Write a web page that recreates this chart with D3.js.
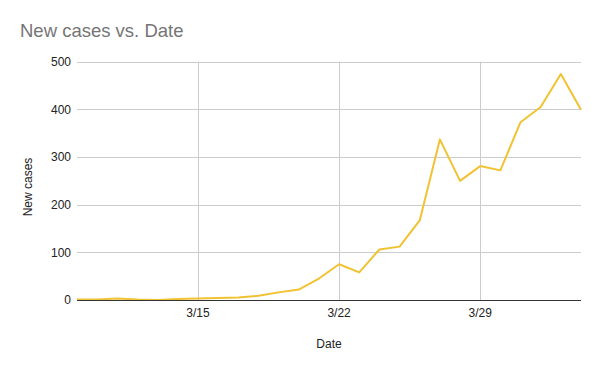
<!DOCTYPE html>
<html><head><meta charset="utf-8">
<script src="https://cdn.jsdelivr.net/npm/d3@7"></script>
<style>body{margin:0;background:#fff}svg{display:block;font-family:"Liberation Sans",Arial,sans-serif}</style>
</head><body>
<script>
const dates = ["2020-03-09","2020-03-10","2020-03-11","2020-03-12","2020-03-13","2020-03-14","2020-03-15","2020-03-16","2020-03-17","2020-03-18","2020-03-19","2020-03-20","2020-03-21","2020-03-22","2020-03-23","2020-03-24","2020-03-25","2020-03-26","2020-03-27","2020-03-28","2020-03-29","2020-03-30","2020-03-31","2020-04-01","2020-04-02","2020-04-03"];
const newCases = [1,1,3,1,0,2,3,4,5,9,16,22,45,75,58,106,112,167,337,250,281,272,373,405,474,399];
const yTicks = [0,100,200,300,400,500];
const xTickDates = ["2020-03-15","2020-03-22","2020-03-29"];
const xTickLabels = ["3/15","3/22","3/29"];
const title = "New cases vs. Date";
const xTitle = "Date";
const yTitle = "New cases";

const W=600,H=371;
const parse=d3.timeParse("%Y-%m-%d");
const data=dates.map((d,i)=>({date:parse(d),v:newCases[i]}));
const svg=d3.select("body").append("svg").attr("width",W).attr("height",H);
const x=d3.scaleTime().domain(d3.extent(data,d=>d.date)).range([77,581]);
const y=d3.scaleLinear().domain([0,500]).range([300,61.7]);

// horizontal grid
svg.append("g").selectAll("line").data(yTicks.filter(t=>t>0)).join("line")
 .attr("x1",77).attr("x2",581).attr("y1",d=>Math.round(y(d))+0.5).attr("y2",d=>Math.round(y(d))+0.5)
 .attr("stroke","#cccccc").attr("stroke-width",1);
// vertical grid
const xt=xTickDates.map(parse);
svg.append("g").selectAll("line").data(xt).join("line")
 .attr("x1",d=>Math.round(x(d))+0.5).attr("x2",d=>Math.round(x(d))+0.5).attr("y1",61.7).attr("y2",300)
 .attr("stroke","#cccccc").attr("stroke-width",1);

// y tick labels
svg.append("g").selectAll("text").data(yTicks).join("text")
 .attr("x",71).attr("y",d=>y(d)+4.3).attr("text-anchor","end")
 .attr("font-size",12).attr("fill","#222").text(d=>d);
// x tick labels
svg.append("g").selectAll("text").data(xt).join("text")
 .attr("x",d=>x(d)).attr("y",317).attr("text-anchor","middle")
 .attr("font-size",12).attr("fill","#222").text((d,i)=>xTickLabels[i]);

// line
svg.append("path").datum(data)
 .attr("d",d3.line().x(d=>x(d.date)).y(d=>y(d.v)))
 .attr("fill","none").attr("stroke","#f1c232").attr("stroke-width",2).attr("stroke-linejoin","round");

// baseline
svg.append("line").attr("x1",77).attr("x2",581).attr("y1",300.5).attr("y2",300.5).attr("stroke","#333").attr("stroke-width",1);

// titles
svg.append("text").attr("x",20).attr("y",37).attr("font-size",18.5).attr("fill","#757575").text(title);
svg.append("text").attr("x",329).attr("y",348).attr("text-anchor","middle").attr("font-size",12).attr("fill","#222").text(xTitle);
svg.append("text").attr("transform","translate(31.5,187) rotate(-90)").attr("text-anchor","middle").attr("font-size",12).attr("fill","#222").text(yTitle);
</script>
</body></html>
